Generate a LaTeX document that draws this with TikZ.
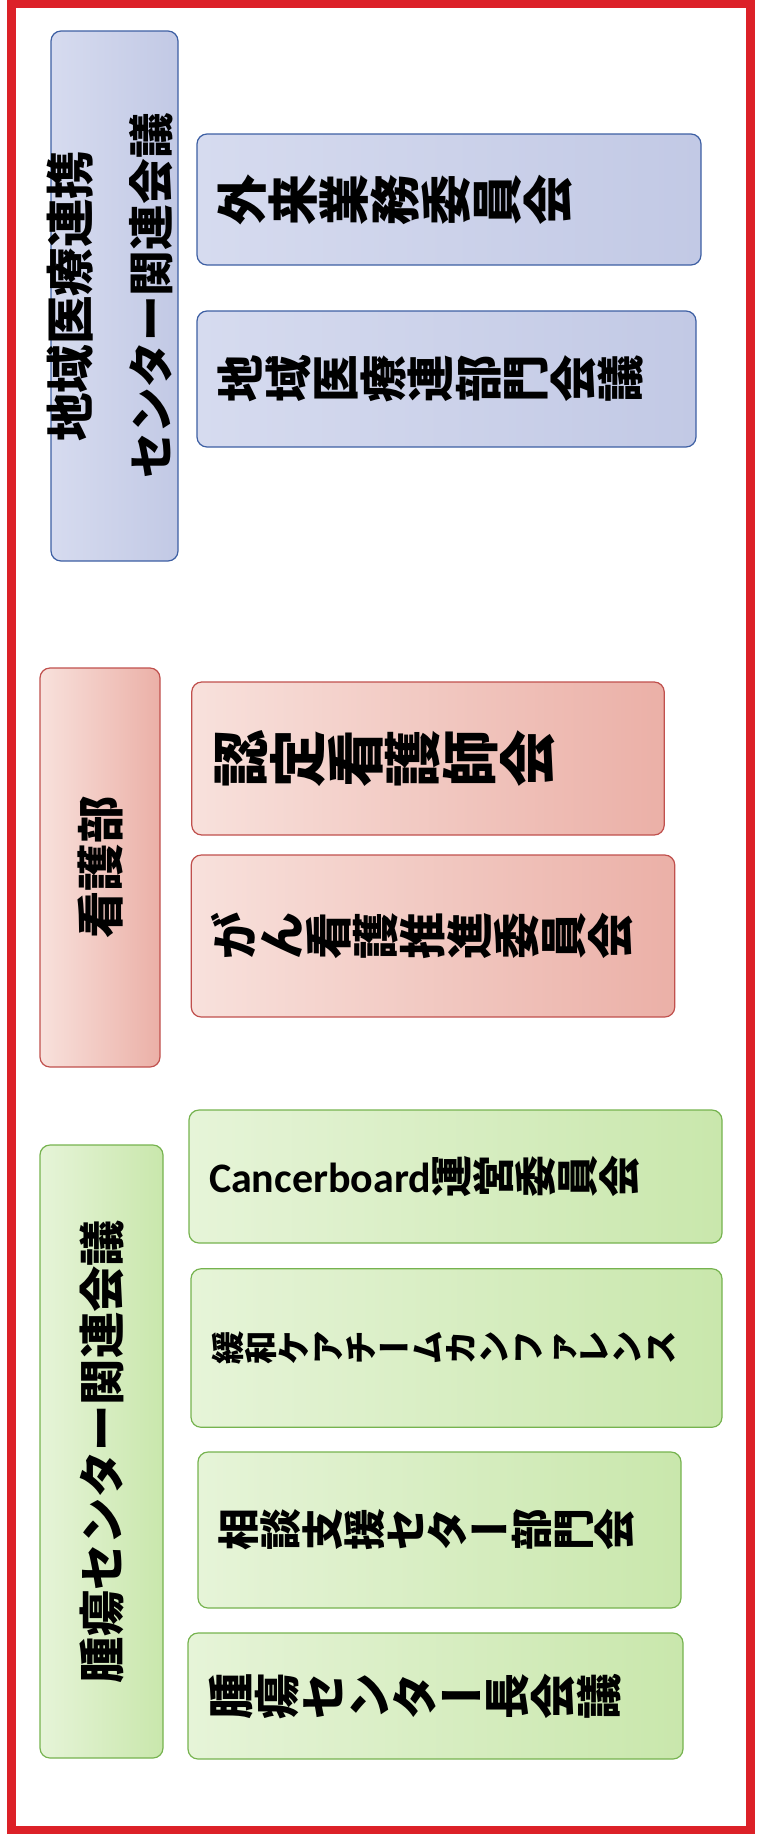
\documentclass[tikz,border=0pt]{standalone}
\usepackage{fontspec}
\usepackage{graphicx}
\newfontfamily\jp{Noto Sans CJK JP}
\newfontfamily\lat{Carlito}

\definecolor{framered}{HTML}{DC2128}
\definecolor{blueline}{HTML}{3D5FA3}
\definecolor{blueA}{HTML}{D6DBEF}
\definecolor{blueB}{HTML}{C2C9E5}
\definecolor{pinkline}{HTML}{C0504D}
\definecolor{pinkA}{HTML}{F8E1DC}
\definecolor{pinkB}{HTML}{EBB0A7}
\definecolor{greenline}{HTML}{76B34F}
\definecolor{greenA}{HTML}{E6F4D8}
\definecolor{greenB}{HTML}{C9E7AC}

\newcommand\fs[1]{\fontsize{#1}{#1}\selectfont}
\newcommand\tatechar[1]{\rotatebox[origin=c]{90}{\raisebox{0pt}[0.88em][0.12em]{\makebox[1em]{#1}}}}
\ExplSyntaxOn
\NewDocumentCommand\tate{m}{\tl_map_inline:nn{#1}{\str_if_eq:nnTF{##1}{ー}{##1}{\tatechar{##1}}}}
\ExplSyntaxOff

\begin{document}
\begin{tikzpicture}[x=1pt,y=-1pt,
    box/.style={rounded corners=10pt, line width=1.2pt, inner sep=0pt, font=\jp\bfseries},
    room/.style={box, align=left, inner xsep=20pt},
    bluebox/.style={draw=blueline, left color=blueA, right color=blueB},
    pinkbox/.style={draw=pinkline, left color=pinkA, right color=pinkB},
    greenbox/.style={draw=greenline, left color=greenA, right color=greenB}]
    \useasboundingbox (0,0) rectangle (764,1834);
    \draw[framered, line width=9pt] (11.5,3.5) rectangle (750.5,1830.5);

    \node[box, bluebox, minimum width=127pt, minimum height=530pt] (renkeiHead) at (114.5,296) {};
    \node[rotate=90, inner sep=0pt, font=\jp\bfseries] (renkeiTitle) at (112.5,296)
        {\fontsize{47}{80}\selectfont\begin{tabular}{@{}c@{}}\fs{48.5}地域医療連携\\\fs{45.7}センター関連会議\end{tabular}};
    \node[room, bluebox, text width=464pt, minimum height=131pt] (gairai) at (449,199.5)
        {\fs{51}\tate{外来業務委員会}};
    \node[room, bluebox, text width=459pt, minimum height=136pt] (renkeiBumon) at (446.5,379)
        {\fs{47.5}\tate{地域医療連部門会議}};

    \node[box, pinkbox, minimum width=120pt, minimum height=399pt] (kangoHead) at (100,867.5)
        {\rotatebox{90}{\fs{47.5}看護部}};
    \node[room, pinkbox, text width=432.5pt, minimum height=153pt] (ninteiKango) at (428,758.5)
        {\fs{57.5}\tate{認定看護師会}};
    \node[room, pinkbox, text width=443.5pt, minimum height=162pt] (ganKango) at (433,936)
        {\fs{47}\tate{がん看護推進委員会}};

    \node[box, greenbox, minimum width=123pt, minimum height=613pt] (shuyoHead) at (101.5,1451.5)
        {\rotatebox{90}{\fs{46.3}腫瘍センター関連会議}};
    \node[room, greenbox, text width=493pt, minimum height=133pt] (cancerboard) at (455.5,1176.5)
        {\fs{42}{\lat Cancerboard}\tate{運営委員会}};
    \node[room, greenbox, text width=491pt, minimum height=158.5pt] (kanwaCare) at (456.5,1348)
        {\fs{33.3}\tate{緩和ケアチームカンファレンス}};
    \node[room, greenbox, text width=443pt, minimum height=156pt] (sodanShien) at (439.5,1530)
        {\fs{41.8}\tate{相談支援セター部門会}};
    \node[room, greenbox, text width=455pt, minimum height=126pt] (centerCho) at (435.5,1696)
        {\fs{46}\tate{腫瘍センター長会議}};
\end{tikzpicture}
\end{document}
